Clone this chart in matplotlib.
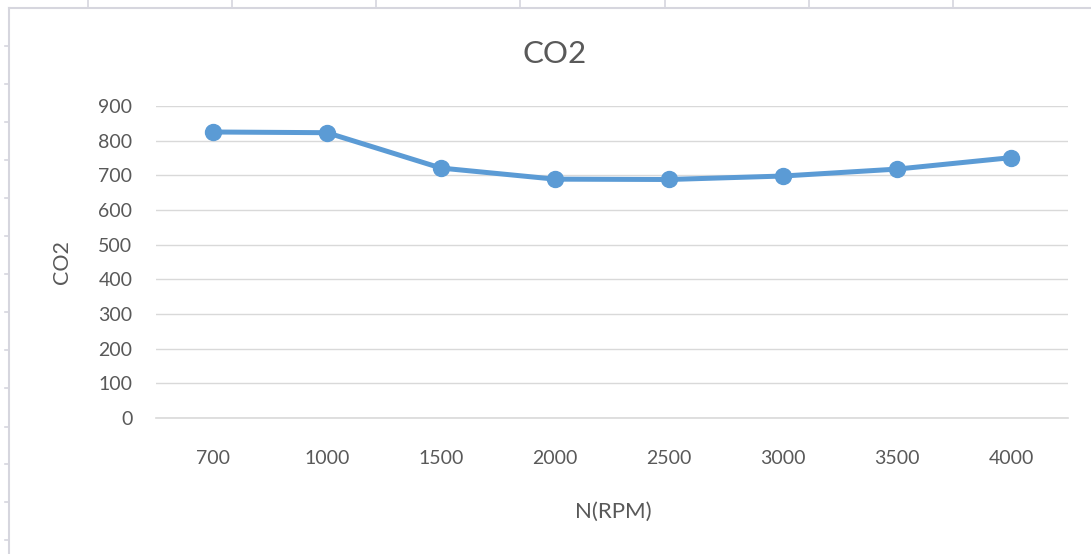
import matplotlib.pyplot as plt
from matplotlib.lines import Line2D

# data
rpm = ['700', '1000', '1500', '2000', '2500', '3000', '3500', '4000']
co2 = [825, 823, 721, 689, 688, 698, 718, 751]
y_ticks = [0, 100, 200, 300, 400, 500, 600, 700, 800, 900]

W, H = 1091, 554
plt.rcParams['font.family'] = ['Lato', 'DejaVu Sans']
fig = plt.figure(figsize=(W / 100, H / 100), dpi=100)
ax = fig.add_axes([156 / W, 1 - 418 / H, 912 / W, 312 / H])

text_col = '#595959'
ax.plot(range(len(rpm)), co2, color='#5B9BD5', linewidth=3.6,
        marker='o', markersize=11.5, solid_capstyle='round', zorder=3)

ax.set_xlim(-0.5, len(rpm) - 0.5)
ax.set_ylim(0, 900)
ax.set_yticks(y_ticks)
ax.set_xticks(range(len(rpm)))
ax.set_xticklabels(rpm)
ax.grid(axis='y', color='#D9D9D9', linewidth=1)
ax.axhline(0, color='#D9D9D9', linewidth=1.2, clip_on=False, zorder=1)
ax.set_axisbelow(True)
for s in ax.spines.values():
    s.set_visible(False)
ax.tick_params(axis='both', length=0, labelsize=14, labelcolor=text_col)
ax.tick_params(axis='x', pad=23)
ax.tick_params(axis='y', pad=17)

fig.text(555 / W, 1 - 54 / H, 'CO2', fontsize=22.5, color=text_col,
         ha='center', va='center')
fig.text(613 / W, 1 - 512 / H, 'N(RPM)', fontsize=16, color=text_col,
         ha='center', va='center')
fig.text(62 / W, 1 - 262 / H, 'CO2', fontsize=15.5, color=text_col,
         ha='center', va='center', rotation=90)

# sheet frame around the chart
frame = '#D6D6DE'
fig.add_artist(Line2D([9 / W, 1], [1 - 8 / H, 1 - 8 / H], color=frame, lw=1.5))
fig.add_artist(Line2D([9 / W, 9 / W], [0, 1 - 8 / H], color=frame, lw=1.5))
for x in [88, 232, 376, 520, 665, 809, 953]:
    fig.add_artist(Line2D([x / W, x / W], [1 - 8 / H, 1], color=frame, lw=1.2))
for y in [46, 84, 122, 160, 198, 236, 274, 312, 350, 388, 427, 464, 502, 540]:
    fig.add_artist(Line2D([5 / W, 9 / W], [1 - y / H, 1 - y / H], color=frame, lw=1.2))

fig.savefig('out.png', dpi=100)
